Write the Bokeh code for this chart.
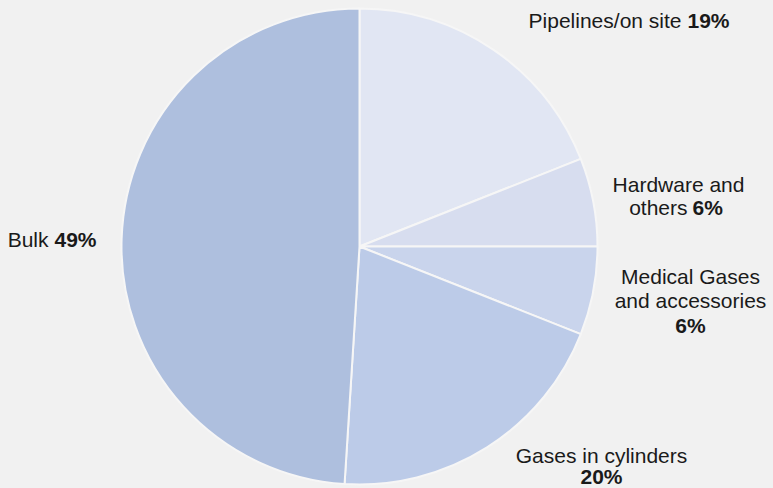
import math
from bokeh.plotting import figure
from bokeh.models import Range1d, ColumnDataSource
from bokeh.core.properties import value
from bokeh.embed import file_html
from bokeh.resources import INLINE

# ---- data ----
categories = ["Pipelines/on site", "Hardware and others", "Medical Gases and accessories",
              "Gases in cylinders", "Bulk"]
shares = [19, 6, 6, 20, 49]
colors = ["#e1e6f3", "#d7ddef", "#c9d4ec", "#bccbe8", "#aebfde"]

W, H = 773, 488
BG = "#f1f1f1"
FONT = "Liberation Sans"
FS = "21px"
TXT = "#1a1a1a"

p = figure(width=W, height=H, output_backend="svg", toolbar_location=None,
           x_range=Range1d(0, W), y_range=Range1d(0, H), min_border=0)
p.axis.visible = False
p.grid.visible = False
p.outline_line_color = None
p.background_fill_color = BG
p.border_fill_color = BG

# wedges, clockwise from 12 o'clock
total = float(sum(shares))
starts, ends = [], []
cum = 0.0
for s in shares:
    starts.append(math.pi / 2 - 2 * math.pi * cum / total)
    cum += s
    ends.append(math.pi / 2 - 2 * math.pi * cum / total)

cx, cy, r = 359, H - 246, 238
src = ColumnDataSource(dict(start=starts, end=ends, color=colors, cat=categories))
p.wedge(x=cx, y=cy, radius=r, start_angle="start", end_angle="end", direction="clock",
        fill_color="color", line_color="#f6f6f6", line_width=2, source=src)

SHIFT = 8

def y(page_y):
    return H - (page_y - SHIFT)

def txt(x, py, t, align="left", bold=False):
    p.text(x=[x], y=[y(py)], text=[t], text_font=value(FONT), text_font_size=FS,
           text_color=TXT, text_align=align, text_baseline="alphabetic",
           text_font_style="bold" if bold else "normal")

pct = [f"{s}%" for s in shares]

# Pipelines/on site 19%
txt(681, 28, "Pipelines/on site", "right")
txt(687, 28, pct[0], "left", True)
# Hardware and others 6%
txt(678, 192, "Hardware and", "center")
txt(687, 215, "others", "right")
txt(692, 215, pct[1], "left", True)
# Medical Gases and accessories 6%
txt(690, 284, "Medical Gases", "center")
txt(690, 308, "and accessories", "center")
txt(690, 333, pct[2], "center", True)
# Gases in cylinders 20%
txt(601, 463, "Gases in cylinders", "center")
txt(601, 484, pct[3], "center", True)
# Bulk 49%
txt(48, 247, "Bulk", "right")
txt(54, 247, pct[4], "left", True)

html = file_html(p, INLINE)
html = html.replace("<head>", "<head><style>html,body{margin:0;padding:0;background:%s;overflow:hidden}</style>" % BG, 1)
open("out.html", "w").write(html)
